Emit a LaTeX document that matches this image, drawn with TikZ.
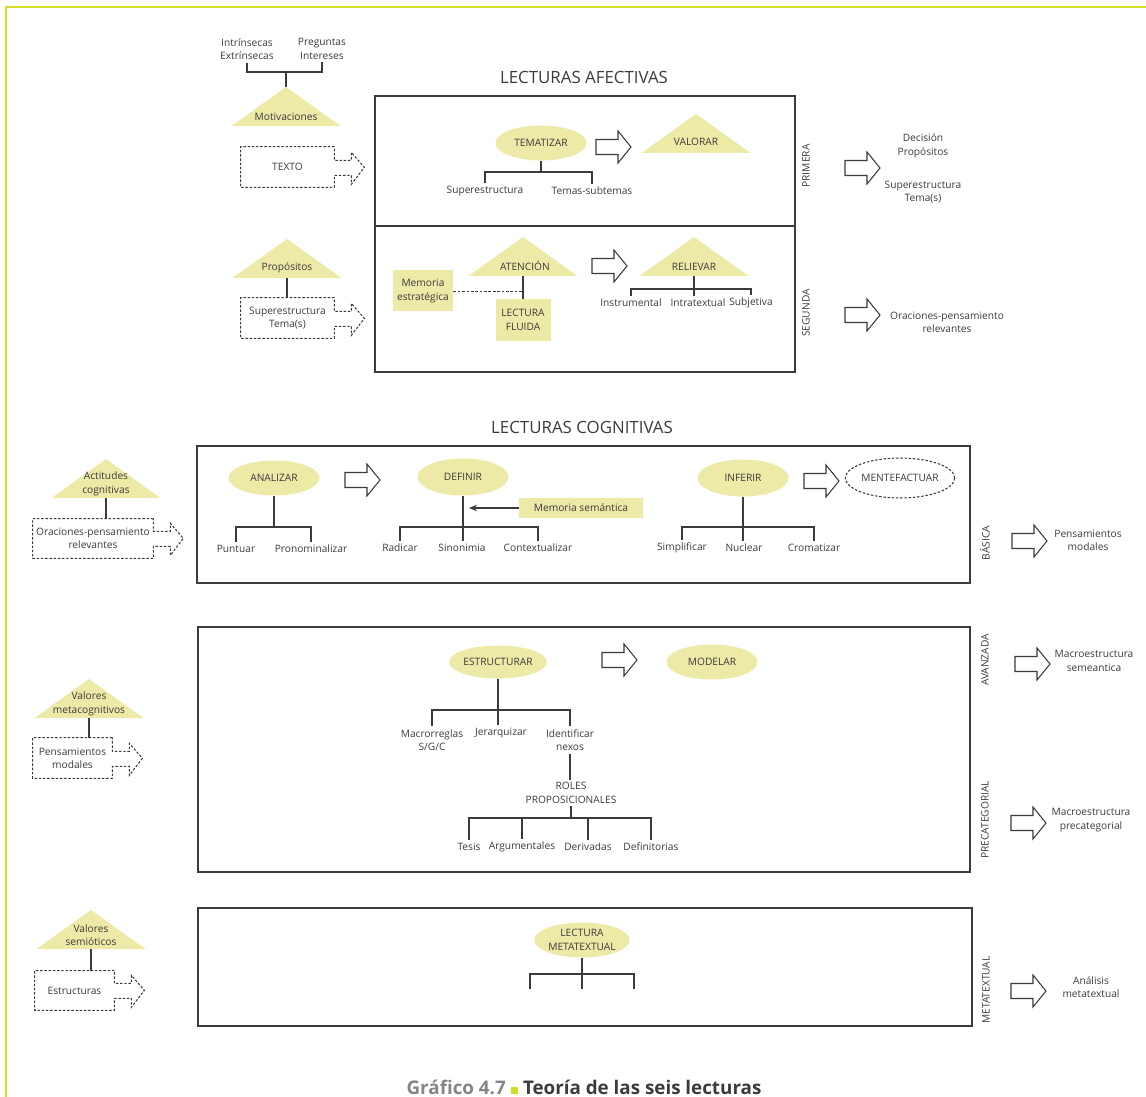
\documentclass[tikz,border=0pt]{standalone}
\usepackage{fontspec}
\setmainfont{Open Sans}
\usetikzlibrary{arrows.meta,shapes.geometric}
\definecolor{sand}{HTML}{EDE9A7}
\definecolor{limeline}{HTML}{D5DB2C}
\definecolor{ink}{HTML}{3B3B3B}
\definecolor{capgray}{HTML}{858585}
\newcommand{\lblfont}{\fontsize{5.8pt}{7.6pt}\selectfont}
\newcommand{\dotarrow}[1]{\draw[dotline] (#1.north east) -- (#1.north west) -- (#1.south west) -- (#1.south east) -- ++(0,-12) -- ++(17,0) -- ++(0,9) -- ++(13,-17) -- ++(-13,-15) -- ++(0,8) -- ++(-17,0) -- cycle;}

\begin{document}
\begin{tikzpicture}[x=0.02cm,y=-0.02cm,
  lbl/.style={font=\lblfont,text=ink,align=center,inner sep=1.5pt},
  oval/.style={ellipse,fill=sand,lbl,minimum width=1.82cm,minimum height=0.7cm,inner sep=0pt},
  sandbox/.style={fill=sand,lbl,inner sep=0pt},
  dotbox/.style={lbl,inner sep=0pt,minimum height=0.8cm},
  dotline/.style={draw=ink,line width=0.6pt,dash pattern=on 1.4pt off 1pt},
  boxframe/.style={draw=ink,line width=0.75pt},
  treeline/.style={draw=ink,line width=0.6pt},
  bandtitle/.style={font=\fontsize{9.6pt}{11pt}\selectfont,text=ink},
  sidelbl/.style={lbl,rotate=90},
  tri/.pic={\fill[sand] (0,0) coordinate (-top) -- (54.5,39) -- (-54.5,39) -- cycle;
    \coordinate (-bot) at (0,39);},
  bigarr/.pic={\draw[boxframe,fill=white,line width=0.6pt] (0,-7.5) -- (22,-7.5) -- (22,-16) -- (35,0) -- (22,16) -- (22,7.5) -- (0,7.5) -- cycle;}]
\useasboundingbox (0,0) rectangle (1146,1097);
\draw[limeline,line width=1.1pt] (6,1097) -- (6,7) -- (1146,7);

\node[lbl] (intr) at (247,49) {Intrínsecas\\Extrínsecas};
\node[lbl] (preg) at (322,49) {Preguntas\\Intereses};
\pic (motT) at (286,87) {tri};
\node[lbl] (mot) at (286,117) {Motivaciones};
\coordinate (motJ) at (286,72);
\draw[treeline] (intr.south) |- (motJ) -| (preg.south);
\draw[treeline] (motJ) -- (motT-top);
\node[dotbox,minimum width=1.86cm] (texto) at (287.5,167) {\raisebox{-0.6ex}{TEXTO}};
\dotarrow{texto}
\pic (propT) at (287,239) {tri};
\node[lbl] (prop) at (287,268) {Propósitos};
\node[dotbox,minimum width=1.86cm] (supA) at (287.5,318) {Superestructura\\Tema(s)};
\dotarrow{supA}
\draw[treeline] (propT-bot) -- (propT-bot |- supA.north);

\node[bandtitle] (afect) at (584,77) {LECTURAS AFECTIVAS};
\draw[boxframe] (375,96) rectangle (795,372);
\draw[boxframe] (375,226) -- (795,226);

\node[oval] (tem) at (541,143) {TEMATIZAR};
\node[lbl] (supB) at (485,191) {Superestructura};
\node[lbl] (temas) at (592,191) {Temas-subtemas};
\coordinate (temJ) at (541,172);
\draw[treeline] (tem.south) -- (temJ);
\draw[treeline] (supB.north) |- (temJ) -| (temas.north);
\pic at (596,147) {bigarr};
\pic (valT) at (696,114) {tri};
\node[lbl] (val) at (696,142) {VALORAR};
\node[sidelbl] at (806,166) {PRIMERA};
\pic at (845,168) {bigarr};
\node[lbl] (dec) at (923,146) {Decisión\\Propósitos};
\node[lbl] (supC) at (923,192) {Superestructura\\Tema(s)};

\pic (atT) at (523,237) {tri};
\node[lbl] (aten) at (525,266) {ATENCIÓN};
\node[sandbox,minimum width=1.2cm,minimum height=0.82cm] (mest) at (423,291) {Memoria\\estratégica};
\node[sandbox,minimum width=1.1cm,minimum height=0.84cm] (lflu) at (523,320) {LECTURA\\FLUIDA};
\draw[treeline] (atT-bot) -- (lflu.north);
\draw[draw=ink,line width=0.45pt,dash pattern=on 1.5pt off 1pt] (mest.east) -- (mest.east -| lflu.north);
\pic at (592,266) {bigarr};
\pic (relT) at (694,237) {tri};
\node[lbl] (rel) at (694,267) {RELIEVAR};
\node[lbl] (instr) at (631,303) {Instrumental};
\node[lbl] (intra) at (698,303) {Intratextual};
\node[lbl] (subj) at (751,303) {Subjetiva};
\coordinate (relJ) at (694,289);
\draw[treeline] (relT-bot) -- (relT-bot |- intra.north);
\draw[treeline] (instr.north) |- (relJ) -| (subj.north);
\node[sidelbl] at (806,313) {SEGUNDA};
\pic at (845,315) {bigarr};
\node[lbl] (oraA) at (947,322) {Oraciones-pensamiento\\relevantes};

\node[bandtitle] (cogn) at (582,427) {LECTURAS COGNITIVAS};
\draw[boxframe] (197,446) rectangle (970,583);
\pic (actT) at (106,459) {tri};
\node[lbl] (act) at (106,484) {Actitudes\\cognitivas};
\node[dotbox,minimum width=2.4cm,minimum height=0.78cm] (oraB) at (93,538.5) {Oraciones-pensamiento\\relevantes};
\dotarrow{oraB}
\draw[treeline] (actT-bot) -- (actT-bot |- oraB.north);

\node[oval] (ana) at (274,478) {ANALIZAR};
\node[lbl] (punt) at (236,549) {Puntuar};
\node[lbl] (pron) at (311,549) {Pronominalizar};
\coordinate (anaJ) at (274,527);
\draw[treeline] (ana.south) -- (anaJ);
\draw[treeline] (punt.north) |- (anaJ) -| (pron.north);
\pic at (345,480) {bigarr};
\node[oval,minimum height=0.74cm] (def) at (463,477) {DEFINIR};
\node[lbl] (radi) at (400,548) {Radicar};
\node[lbl] (sino) at (462,548) {Sinonimia};
\node[lbl] (ctx) at (538,548) {Contextualizar};
\coordinate (defJ) at (463,527);
\draw[treeline] (def.south) -- (def.south |- sino.north);
\draw[treeline] (radi.north) |- (defJ) -| (ctx.north);
\node[sandbox,minimum width=2.48cm,minimum height=0.4cm] (msem) at (581,508) {Memoria semántica};
\draw[treeline,-{Stealth[length=1.6mm,width=1.3mm]},shorten >=1.2mm] (msem.west) -- (msem.west -| def.south);
\node[oval,minimum height=0.74cm] (inf) at (743,478) {INFERIR};
\node[lbl] (simp) at (682,548) {Simplificar};
\node[lbl] (nucl) at (744,548) {Nuclear};
\node[lbl] (crom) at (814,548) {Cromatizar};
\coordinate (infJ) at (743,527);
\draw[treeline] (inf.south) -- (inf.south |- nucl.north);
\draw[treeline] (simp.north) |- (infJ) -| (crom.north);
\pic at (804,481) {bigarr};
\node[ellipse,lbl,dotline,minimum width=1.84cm,minimum height=0.8cm,inner sep=0pt] (ment) at (900,478) {MENTEFACTUAR};
\node[sidelbl] at (985,543) {BÁSICA};
\pic at (1012,541) {bigarr};
\node[lbl] (pmA) at (1088,540) {Pensamientos\\modales};

\draw[boxframe] (198,627) rectangle (970,872);
\pic (vmT) at (89,679) {tri};
\node[lbl] (vmet) at (89,704) {Valores\\metacognitivos};
\node[dotbox,minimum width=1.58cm] (pmB) at (72.5,758) {Pensamientos\\modales};
\dotarrow{pmB}
\draw[treeline] (vmT-bot) -- (vmT-bot |- pmB.north);

\node[oval,minimum height=0.66cm] (estr) at (498,662) {ESTRUCTURAR};
\node[lbl] (macr) at (432,740) {Macrorreglas\\S/G/C};
\node[lbl] (jera) at (501,733) {Jerarquizar};
\node[lbl] (iden) at (570,740) {Identificar\\nexos};
\coordinate (estJ) at (498,710);
\draw[treeline] (estr.south) -- (estr.south |- jera.north);
\draw[treeline] (macr.north) |- (estJ) -| (iden.north);
\node[lbl] (roles) at (571,793) {ROLES\\PROPOSICIONALES};
\draw[treeline] (iden.south) -- (iden.south |- roles.north);
\node[lbl] (tesis) at (469,847) {Tesis};
\node[lbl] (argu) at (522,847) {Argumentales};
\node[lbl] (deri) at (588,847) {Derivadas};
\node[lbl] (defi) at (651,847) {Definitorias};
\coordinate (rolJ) at (571,818);
\draw[treeline] (roles.south) -- (roles.south |- rolJ);
\draw[treeline] (tesis.north) |- (rolJ) -| (defi.north);
\draw[treeline] (argu.north) -- (argu.north |- rolJ);
\draw[treeline] (deri.north) -- (deri.north |- rolJ);
\pic at (602,660) {bigarr};
\node[oval] (mode) at (712,662) {MODELAR};
\node[sidelbl] at (985,660) {AVANZADA};
\pic at (1015,664) {bigarr};
\node[lbl] (msema) at (1094,661) {Macroestructura\\semeantica};
\node[sidelbl] at (985,820) {PRECATEGORIAL};
\pic at (1011,823) {bigarr};
\node[lbl] (mprec) at (1091,820) {Macroestructura\\precategorial};

\draw[boxframe] (198,908) rectangle (972,1026);
\pic (vsT) at (91,910) {tri};
\node[lbl] (vsem) at (91,935) {Valores\\semióticos};
\node[dotbox,minimum width=1.58cm,minimum height=0.78cm] (estc) at (74.5,990.5) {Estructuras};
\dotarrow{estc}
\draw[treeline] (vsT-bot) -- (vsT-bot |- estc.north);
\node[oval] (lmeta) at (582,940) {LECTURA\\METATEXTUAL};
\coordinate (lmJ) at (582,974);
\coordinate (lmA) at (530,989);
\coordinate (lmB) at (582,989);
\coordinate (lmC) at (634,989);
\draw[treeline] (lmeta.south) -- (lmB);
\draw[treeline] (lmA) |- (lmJ) -| (lmC);
\node[sidelbl] at (986,990) {METATEXTUAL};
\pic at (1011,991) {bigarr};
\node[lbl] (anal) at (1091,987) {Análisis\\metatextual};

\node[font=\fontsize{10.7pt}{12pt}\selectfont\bfseries] (capt) at (584,1087) {\textcolor{capgray}{Gráfico 4.7} \textcolor{limeline}{\rule{0.15cm}{0.15cm}} \textcolor{ink}{Teoría de las seis lecturas}};
\end{tikzpicture}
\end{document}
